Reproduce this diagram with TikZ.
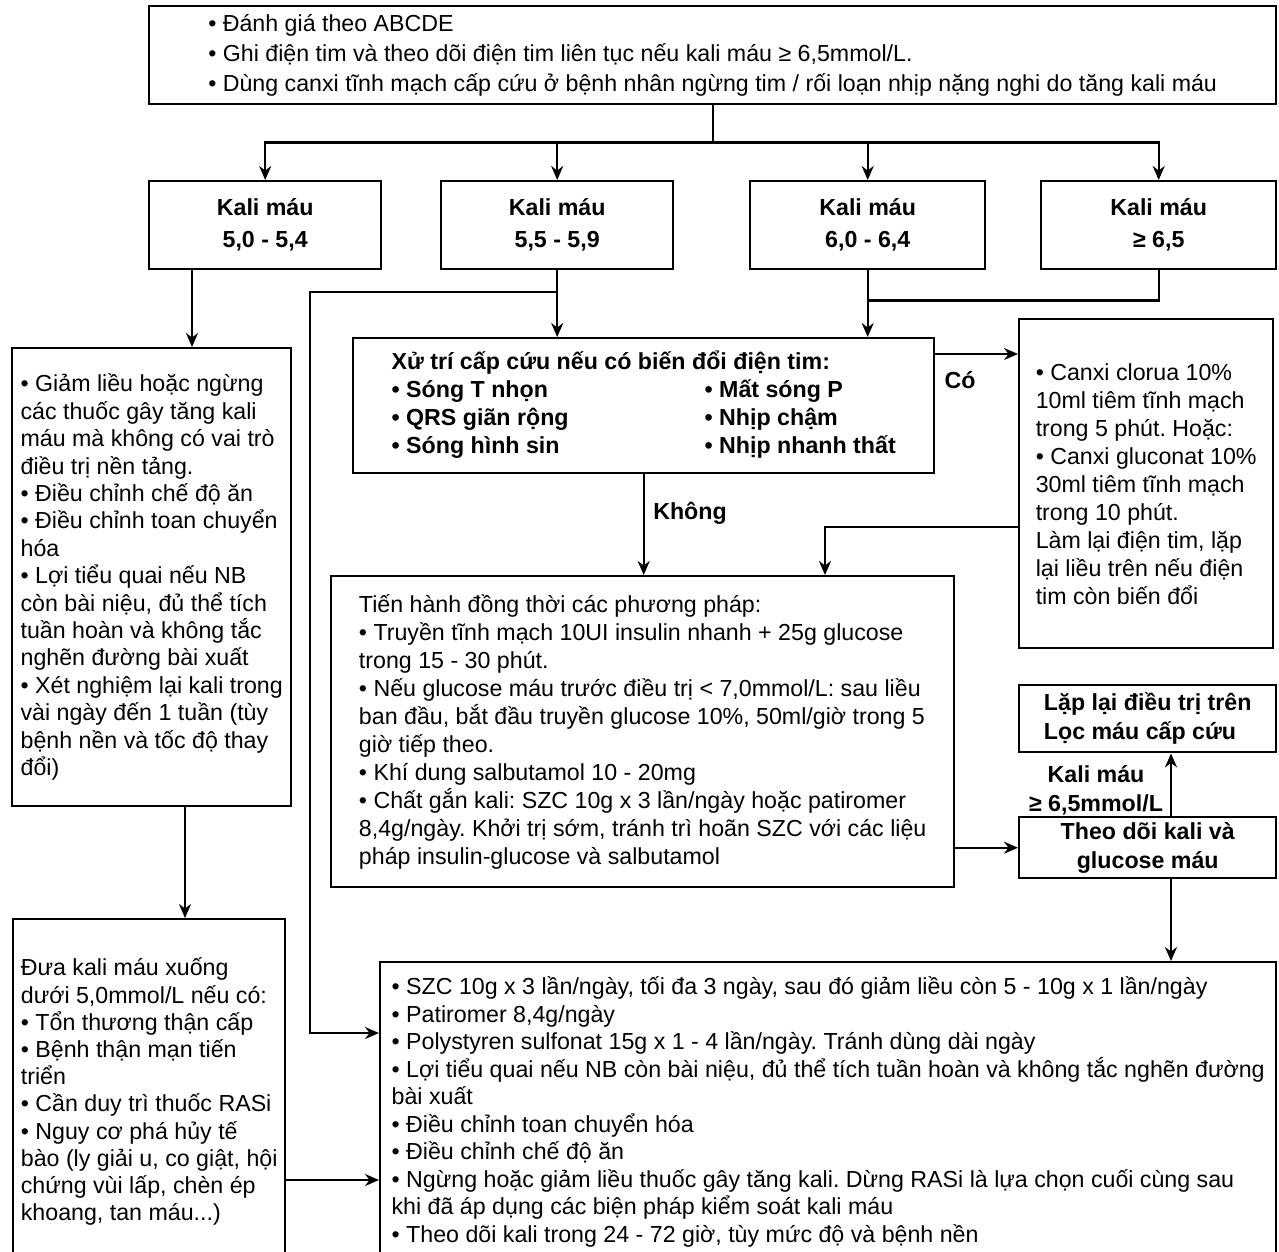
\documentclass[tikz,border=0pt]{standalone}
\usepackage{fontspec}
\setmainfont{Liberation Sans}
\frenchspacing
\usepackage{tikz}
\usetikzlibrary{calc}
\usetikzlibrary{arrows.meta}

\begin{document}
\begin{tikzpicture}[x=1pt, y=-1pt,
        box/.style={draw, line width=2.4pt, anchor=north west, inner xsep=4pt, inner ysep=2pt,
                    align=left, font=\fontsize{23.2}{27.5}\selectfont},
        kbox/.style={box, align=center, minimum width=232pt, minimum height=88pt,
                     font=\fontsize{23.2}{32}\selectfont\bfseries},
        lnk/.style={line width=2.2pt},
        arr/.style={lnk, -{Stealth[length=14pt, width=12pt]}},
        lbl/.style={inner sep=0pt, align=center, font=\fontsize{23.2}{29}\selectfont\bfseries}]
    % Frame to ensure alignment:
    \useasboundingbox (0,0) rectangle (1279,1251);
    \clip (0,0) rectangle (1279,1251);

    \node[box, minimum width=1127pt, minimum height=98pt, font=\fontsize{23.2}{30}\selectfont] (start) at (148,5)
        {• Đánh giá theo ABCDE\\
         • Ghi điện tim và theo dõi điện tim liên tục nếu kali máu ≥ 6,5mmol/L.\\
         • Dùng canxi tĩnh mạch cấp cứu ở bệnh nhân ngừng tim / rối loạn nhịp nặng nghi do tăng kali máu};

    % Kali levels
    \node[kbox]                     (k1) at ( 148,180) {Kali máu\\5,0 - 5,4};
    \node[kbox]                     (k2) at ( 440,180) {Kali máu\\5,5 - 5,9};
    \node[kbox, minimum width=235pt] (k3) at ( 749,180) {Kali máu\\6,0 - 6,4};
    \node[kbox, minimum width=235pt] (k4) at (1040,180) {Kali máu\\≥ 6,5};

    \node[box, minimum width=279pt, minimum height=458pt, font=\fontsize{23.2}{27.4}\selectfont] (mild) at (11,347)
        {• Giảm liều hoặc ngừng\\
         các thuốc gây tăng kali\\
         máu mà không có vai trò\\
         điều trị nền tảng.\\
         • Điều chỉnh chế độ ăn\\
         • Điều chỉnh toan chuyển\\
         hóa\\
         • Lợi tiểu quai nếu NB\\
         còn bài niệu, đủ thể tích\\
         tuần hoàn và không tắc\\
         nghẽn đường bài xuất\\
         • Xét nghiệm lại kali trong\\
         vài ngày đến 1 tuần (tùy\\
         bệnh nền và tốc độ thay\\
         đổi)};

    \node[box, minimum width=581pt, minimum height=135pt, font=\fontsize{23.2}{28}\selectfont\bfseries] (ecg) at (352,337)
        {\begin{tabular}{@{}p{313pt}@{}l@{}}
         \multicolumn{2}{@{}l@{}}{Xử trí cấp cứu nếu có biến đổi điện tim:}\\
         • Sóng T nhọn   & • Mất sóng P\\
         • QRS giãn rộng & • Nhịp chậm\\
         • Sóng hình sin & • Nhịp nhanh thất
         \end{tabular}};

    \node[box, minimum width=254pt, minimum height=329pt, font=\fontsize{23.2}{28}\selectfont] (canxi) at (1018,318)
        {• Canxi clorua 10\%\\
         10ml tiêm tĩnh mạch\\
         trong 5 phút. Hoặc:\\
         • Canxi gluconat 10\%\\
         30ml tiêm tĩnh mạch\\
         trong 10 phút.\\
         Làm lại điện tim, lặp\\
         lại liều trên nếu điện\\
         tim còn biến đổi};

    \node[box, minimum width=623pt, minimum height=311pt, font=\fontsize{23.2}{28}\selectfont] (tien) at (330,575)
        {Tiến hành đồng thời các phương pháp:\\
         • Truyền tĩnh mạch 10UI insulin nhanh + 25g glucose\\
         trong 15 - 30 phút.\\
         • Nếu glucose máu trước điều trị < 7,0mmol/L: sau liều\\
         ban đầu, bắt đầu truyền glucose 10\%, 50ml/giờ trong 5\\
         giờ tiếp theo.\\
         • Khí dung salbutamol 10 - 20mg\\
         • Chất gắn kali: SZC 10g x 3 lần/ngày hoặc patiromer\\
         8,4g/ngày. Khởi trị sớm, tránh trì hoãn SZC với các liệu\\
         pháp insulin-glucose và salbutamol};

    \node[box, minimum width=257pt, minimum height=67pt, font=\fontsize{23.2}{29}\selectfont\bfseries] (lap) at (1018,684)
        {Lặp lại điều trị trên\\Lọc máu cấp cứu};
    \node[box, align=center, minimum width=257pt, minimum height=61pt, font=\fontsize{23.2}{29}\selectfont\bfseries] (theo) at (1018,816)
        {Theo dõi kali và\\glucose máu};

    \node[box, minimum width=272pt, minimum height=345pt, font=\fontsize{23.2}{27.2}\selectfont] (risk) at (12,918)
        {Đưa kali máu xuống\\
         dưới 5,0mmol/L nếu có:\\
         • Tổn thương thận cấp\\
         • Bệnh thận mạn tiến\\
         triển\\
         • Cần duy trì thuốc RASi\\
         • Nguy cơ phá hủy tế\\
         bào (ly giải u, co giật, hội\\
         chứng vùi lấp, chèn ép\\
         khoang, tan máu...)};

    \node[box, minimum width=896pt, minimum height=300pt] (bot) at (379,961)
        {• SZC 10g x 3 lần/ngày, tối đa 3 ngày, sau đó giảm liều còn 5 - 10g x 1 lần/ngày\\
         • Patiromer 8,4g/ngày\\
         • Polystyren sulfonat 15g x 1 - 4 lần/ngày. Tránh dùng dài ngày\\
         • Lợi tiểu quai nếu NB còn bài niệu, đủ thể tích tuần hoàn và không tắc nghẽn đường\\
         bài xuất\\
         • Điều chỉnh toan chuyển hóa\\
         • Điều chỉnh chế độ ăn\\
         • Ngừng hoặc giảm liều thuốc gây tăng kali. Dừng RASi là lựa chọn cuối cùng sau\\
         khi đã áp dụng các biện pháp kiểm soát kali máu\\
         • Theo dõi kali trong 24 - 72 giờ, tùy mức độ và bệnh nền};

    % Connectors
    \coordinate (split) at ([yshift=-37pt]start.south);
    \draw[lnk] (start.south) -- (split);
    \foreach \k in {k1,k2,k3,k4}
        \draw[arr] (split) -| (\k.north);

    \coordinate (mildin)  at (192,0);
    \coordinate (mildout) at (185,0);
    \coordinate (riskout) at (0,1180);
    \draw[arr] (k1.south -| mildin) -- (mild.north -| mildin);
    \draw[arr] (mild.south -| mildout) -- (risk.north -| mildout);
    \draw[arr] (risk.east |- riskout) -- (bot.west |- riskout);

    \coordinate (bypass)    at (310,292);
    \coordinate (bypassend) at (310,1033);
    \draw[arr] (k2.south) -- (ecg.north -| k2.south);
    \draw[arr] (k2.south |- bypass) -| (bypassend) -- (bot.west |- bypassend);

    \draw[lnk] (k4.south) -- ++(0,30) -| (k3.south);
    \draw[arr] (k3.south) -- (ecg.north -| k3.south);

    \coordinate (yes) at (0,354);
    \draw[arr] (ecg.east |- yes) -- (canxi.west |- yes);
    \node[lbl] (co) at (960,380) {Có};

    \draw[arr] (ecg.south) -- (tien.north -| ecg.south);
    \node[lbl] (khong) at (690,513) {Không};

    \coordinate (redo) at (825,527);
    \draw[arr] (canxi.west |- redo) -| (tien.north -| redo);

    \draw[arr] (tien.east |- theo.west) -- (theo.west);

    \coordinate (recheck) at (1171,0);
    \draw[arr] (theo.north -| recheck) -- (lap.south -| recheck);
    \node[lbl] (high) at (1096,790) {Kali máu\\≥ 6,5mmol/L};
    \draw[arr] (theo.south -| recheck) -- (bot.north -| recheck);
\end{tikzpicture}
\end{document}
